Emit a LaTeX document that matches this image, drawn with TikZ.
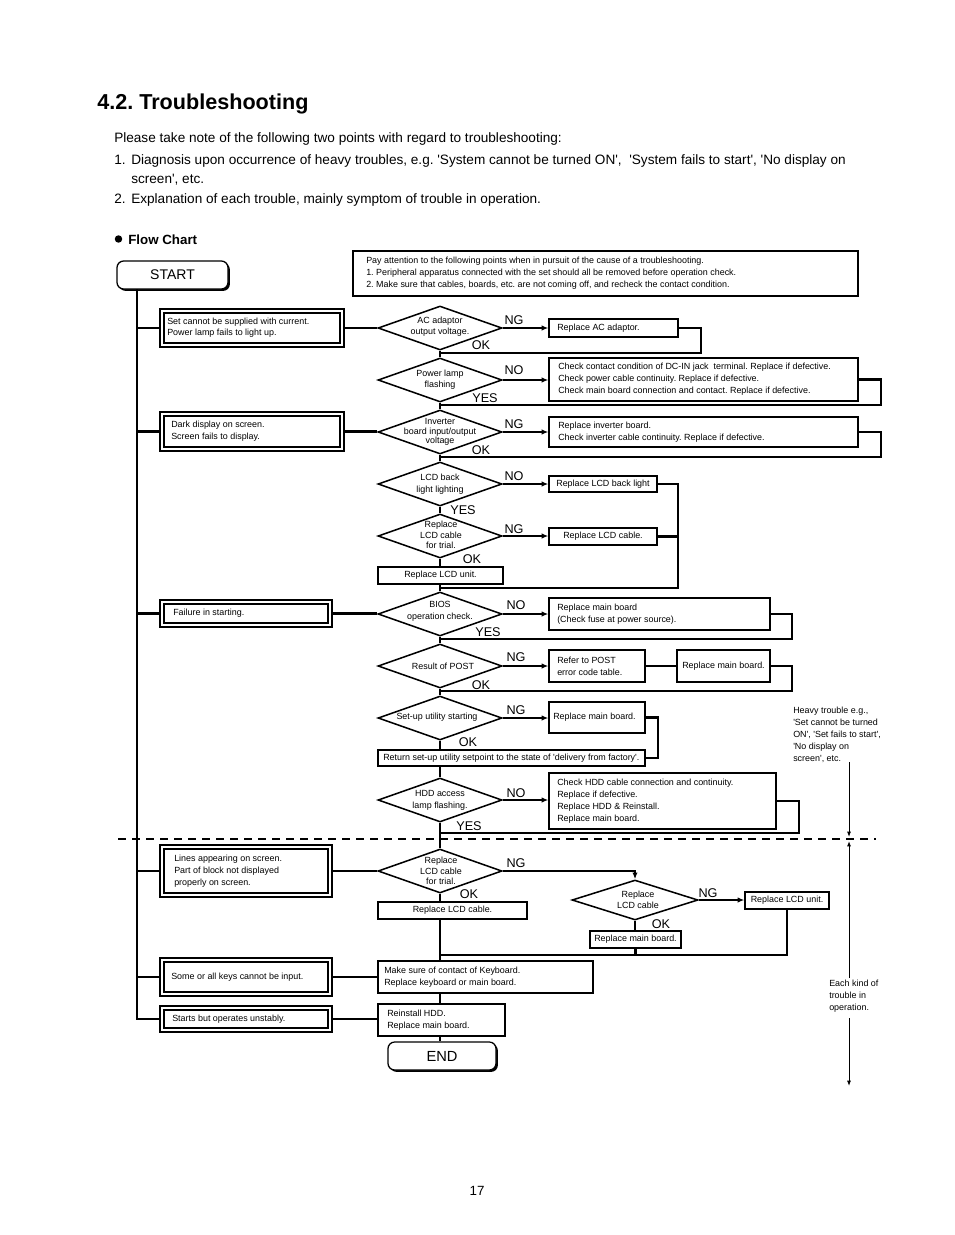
\documentclass[tikz,border=0pt]{standalone}
\usepackage{fontspec}
\setmainfont{Liberation Sans}
\usetikzlibrary{arrows.meta,shapes.geometric,shadows}
\newcommand\sq{\textquotesingle}
\tikzset{
  conn/.style={line width=1.7pt},
  arr/.style={conn,-{Latex[length=5pt,width=4pt]}},
  boxst/.style={draw,line width=0.95pt,inner sep=0pt},
  symst/.style={draw,line width=0.85pt,double,double distance=2.2pt,inner sep=0pt,outer sep=1.95pt},
  dia/.style={draw,diamond,line width=1.15pt,inner sep=0pt,minimum width=93pt,minimum height=33pt},
  txt/.style={inner sep=0pt,align=left,font=\fontsize{6.7}{9}\selectfont},
  dtxt/.style={inner sep=0pt,align=center,font=\fontsize{6.7}{8.3}\selectfont},
  lab/.style={inner sep=0pt,font=\fontsize{9.5}{10}\selectfont},
  hd/.style={anchor=base west,inner sep=0pt,font=\fontsize{10.2}{12}\selectfont},
  term/.style={draw,line width=0.95pt,rounded corners=5pt,fill=white,inner sep=0pt,
    drop shadow={shadow xshift=1.4pt,shadow yshift=-1.4pt,fill=black,opacity=1}},
  thinl/.style={line width=0.75pt},
  tarr/.style={thinl,-{Latex[length=4pt,width=3pt]}},
}
\newcommand\lbox[8][]{%
  \pgfmathsetmacro\myW{(#5-#3)*0.75}%
  \pgfmathsetmacro\myH{(#6-#4)*0.75}%
  \node[boxst,minimum width=\myW pt,minimum height=\myH pt,#1] (#2) at ({(#3+#5)/2},{(#4+#6)/2}) {};%
  \node[txt,anchor=west] (#2t) at ({#3+#7},{(#4+#6)/2}) {#8};}
\newcommand\cbox[7][]{%
  \pgfmathsetmacro\myW{(#5-#3)*0.75}%
  \pgfmathsetmacro\myH{(#6-#4)*0.75}%
  \node[boxst,minimum width=\myW pt,minimum height=\myH pt,#1] (#2) at ({(#3+#5)/2},{(#4+#6)/2}) {};%
  \node[txt,align=center] (#2t) at (#2.center) {#7};}
\begin{document}
\frenchspacing
\begin{tikzpicture}[x=0.75pt,y=-0.75pt]
\useasboundingbox (0,0) rectangle (954,1235);
\fill[white] (0,0) rectangle (954,1235);

% header
\node[anchor=base west,inner sep=0pt,font=\bfseries\fontsize{16.2}{18}\selectfont] (title) at (97,109) {4.2. Troubleshooting};
\node[hd] (p0) at (114,142) {Please take note of the following two points with regard to troubleshooting:};
\node[hd] (n1) at (114,164) {1.};
\node[hd] (p1) at (131,164) {Diagnosis upon occurrence of heavy troubles, e.g. \sq System cannot be turned ON\sq,~ \sq System fails to start\sq, \sq No display on};
\node[hd] (p1b) at (131,183) {screen\sq, etc.};
\node[hd] (n2) at (114,203) {2.};
\node[hd] (p2) at (131,203) {Explanation of each trouble, mainly symptom of trouble in operation.};
\fill (118.5,239) circle[radius=2.8pt];
\node[anchor=base west,inner sep=0pt,font=\bfseries\fontsize{10}{12}\selectfont] (fc) at (128,244) {Flow Chart};

% start / note
\node[term,minimum width=83.25pt,minimum height=21pt,font=\fontsize{10.5}{12}\selectfont] (start) at (172.5,275) {START};
\node[boxst,minimum width=378.75pt,minimum height=33.75pt] (note) at (605.5,273.5) {};
\node[txt,anchor=west] (notet) at (366,273.5) {Pay attention to the following points when in pursuit of the cause of a troubleshooting.\\1. Peripheral apparatus connected with the set should all be removed before operation check.\\2. Make sure that cables, boards, etc. are not coming off, and recheck the contact condition.};

% symptom boxes
\lbox[symst]{s1}{162}{311}{342}{345}{5}{Set cannot be supplied with current.\\[-0.5pt]Power lamp fails to light up.}
\lbox[symst]{s2}{162}{414}{342}{449}{9}{Dark display on screen.\\Screen fails to display.}
\lbox[symst]{s3}{162}{602}{330}{625}{11}{Failure in starting.}
\lbox[symst]{s4}{162}{847}{330}{895}{12}{Lines appearing on screen.\\Part of block not displayed\\properly on screen.}
\lbox[symst]{s5}{162}{960}{330}{994}{9}{Some or all keys cannot be input.}
\lbox[symst]{s6}{162}{1008}{330}{1030}{10}{Starts but operates unstably.}

% diamonds
\node[dia] (d1) at (440,328) {};
\node[dtxt] (d1t) at (440,327) {AC adaptor\\output voltage.};
\node[dia] (d2) at (440,380) {};
\node[dtxt] (d2t) at (440,380) {Power lamp\\flashing};
\node[dia] (d3) at (440,432) {};
\node[dtxt,font=\fontsize{6.7}{6.9}\selectfont] (d3t) at (440,432) {Inverter\\board input/output\\voltage};
\node[dia] (d4) at (440,484) {};
\node[dtxt,font=\fontsize{6.7}{9}\selectfont] (d4t) at (440,484) {LCD back\\light lighting};
\node[dia] (d5) at (440,536) {};
\node[dtxt,font=\fontsize{6.7}{7.9}\selectfont] (d5t) at (441,535) {Replace\\LCD cable\\for trial.};
\node[dia] (d6) at (440,614) {};
\node[dtxt,font=\fontsize{6.7}{9}\selectfont] (d6t) at (440,611) {BIOS\\operation check.};
\node[dia] (d7) at (440,666) {};
\node[dtxt] (d7t) at (443,666) {Result of POST};
\node[dia] (d8) at (440,718) {};
\node[dtxt] (d8t) at (437,717) {Set-up utility starting};
\node[dia] (d9) at (440,800) {};
\node[dtxt,font=\fontsize{6.7}{9}\selectfont] (d9t) at (440,800) {HDD access\\lamp flashing.};
\node[dia] (d10) at (440,871) {};
\node[dtxt,font=\fontsize{6.7}{7.9}\selectfont] (d10t) at (441,871) {Replace\\LCD cable\\for trial.};
\node[dia,minimum width=94.5pt,minimum height=30pt] (d11) at (635,900) {};
\node[dtxt] (d11t) at (638,900) {Replace\\LCD cable};

% action boxes
\lbox{r1}{549}{319}{678}{337}{8}{Replace AC adaptor.}
\lbox{r2}{549}{358}{858}{401}{9}{Check contact condition of DC-IN jack~ terminal. Replace if defective.\\Check power cable continuity. Replace if defective.\\Check main board connection and contact. Replace if defective.}
\lbox{r3}{549}{417}{858}{447}{9}{Replace inverter board.\\Check inverter cable continuity. Replace if defective.}
\cbox{r4}{549}{476}{657}{492}{Replace LCD back light}
\cbox{r5}{549}{528}{657}{545}{Replace LCD cable.}
\cbox{u1}{378}{567}{503}{584}{Replace LCD unit.}
\lbox{r6}{549}{598}{770}{630}{8}{Replace main board\\(Check fuse at power source).}
\lbox{r7}{549}{650}{645}{682}{8}{Refer to POST\\error code table.}
\cbox{r7b}{677}{650}{770}{682}{Replace main board.}
\lbox{r8}{549}{702}{645}{733}{4}{Replace main board.}
\lbox{ret}{378}{750}{645}{766}{5}{Return set-up utility setpoint to the state of \sq delivery from factory\sq.}
\lbox{r9}{549}{773}{776}{829}{8}{Check HDD cable connection and continuity.\\Replace if defective.\\Replace HDD \& Reinstall.\\Replace main board.}
\cbox{c1}{378}{902}{527}{919}{Replace LCD cable.}
\cbox{r11}{745}{892}{829}{909}{Replace LCD unit.}
\cbox{r12}{590}{931}{681}{948}{Replace main board.}
\lbox{k1}{378}{961}{593}{993}{6}{Make sure of contact of Keyboard.\\Replace keyboard or main board.}
\lbox{h1}{378}{1004}{505}{1036}{9}{Reinstall HDD.\\Replace main board.}
\node[term,minimum width=81pt,minimum height=21pt,font=\fontsize{11}{12}\selectfont] (finish) at (442,1056) {END};

% coordinates
\coordinate (tt) at (137,289);
\coordinate (mx) at (440,0);
\coordinate (m1) at (440,353);
\coordinate (m2) at (440,405);
\coordinate (m3) at (440,457);
\coordinate (m4) at (440,588);
\coordinate (m6) at (440,639);
\coordinate (m7) at (440,691);
\coordinate (m9) at (440,833);
\coordinate (m10) at (440,955);
\coordinate (j4) at (678,0);

% trunk and branches
\draw[conn] (tt) |- (s6.west);
\foreach \s in {s1,s2,s3,s4,s5} \draw[conn] (\s.west -| tt) -- (\s.west);
\draw[conn] (s1.east) -- (s1.east -| d1.west);
\draw[conn] (s2.east) -- (s2.east -| d3.west);
\draw[conn] (s3.east) -- (s3.east -| d6.west);
\draw[conn] (s4.east) -- (s4.east -| d10.west);
\draw[conn] (s5.east) -- (s5.east -| k1.west);
\draw[conn] (s6.east) -- (s6.east -| h1.west);

% main line
\draw[conn] (d1.south) -- (d2.north);
\draw[conn] (d2.south) -- (d3.north);
\draw[conn] (d3.south) -- (d4.north);
\draw[conn] (d4.south) -- (d5.north);
\draw[conn] (d5.south) -- (u1.north -| d5.south);
\draw[conn] (u1.south -| d6.north) -- (d6.north);
\draw[conn] (d6.south) -- (d7.north);
\draw[conn] (d7.south) -- (d8.north);
\draw[conn] (d8.south) -- (ret.north -| d8.south);
\draw[conn] (ret.south -| d9.north) -- (d9.north);
\draw[conn] (d9.south) -- (d10.north);
\draw[conn] (d10.south) -- (c1.north -| d10.south);
\draw[conn] (c1.south -| mx) -- (k1.north -| mx);
\draw[conn] (k1.south -| mx) -- (h1.north -| mx);
\draw[conn] (h1.south -| mx) -- (finish.north -| mx);

% branches right
\draw[arr] (d1.east) -- (d1.east -| r1.west);
\draw[arr] (d2.east) -- (d2.east -| r2.west);
\draw[arr] (d3.east) -- (d3.east -| r3.west);
\draw[arr] (d4.east) -- (d4.east -| r4.west);
\draw[arr] (d5.east) -- (d5.east -| r5.west);
\draw[arr] (d6.east) -- (d6.east -| r6.west);
\draw[arr] (d7.east) -- (d7.east -| r7.west);
\draw[arr] (d8.east) -- (d8.east -| r8.west);
\draw[arr] (d9.east) -- (d9.east -| r9.west);
\draw[arr] (d10.east) -| (d11.north);
\draw[arr] (d11.east) -- (d11.east -| r11.west);

% returns
\draw[conn] (r1.east) -- ++(22,0) |- (m1);
\draw[conn] (r2.east) -- ++(22,0) |- (m2);
\draw[conn] (r3.east) -- ++(22,0) |- (m3);
\draw[conn] (r4.east) -- (r4.east -| j4) |- (m4);
\draw[conn] (r5.east) -- (r5.east -| j4);
\draw[conn] (r6.east) -- ++(21,0) |- (m6);
\draw[conn] (r7.east) -- (r7b.west);
\draw[conn] (r7b.east) -- ++(21,0) |- (m7);
\draw[conn] (r8.east) -- ++(12,0) |- (ret.east);
\draw[conn] (r9.east) -- ++(22,0) |- (m9);
\draw[conn] (d11.south) -- (r12.north -| d11.south);
\draw[conn] (r12.south) -- (r12.south |- m10);
\draw[conn] (r11.south) |- (m10);

% labels
\node[lab] at (514,320) {NG};  \node[lab] at (481,345) {OK};
\node[lab] at (514,370) {NO};  \node[lab] at (485,398) {YES};
\node[lab] at (514,424) {NG};  \node[lab] at (481,450) {OK};
\node[lab] at (514,476) {NO};  \node[lab] at (463,510) {YES};
\node[lab] at (514,529) {NG};  \node[lab] at (472,559) {OK};
\node[lab] at (516,605) {NO};  \node[lab] at (488,632) {YES};
\node[lab] at (516,657) {NG};  \node[lab] at (481,685) {OK};
\node[lab] at (516,710) {NG};  \node[lab] at (468,742) {OK};
\node[lab] at (516,793) {NO};  \node[lab] at (469,826) {YES};
\node[lab] at (516,863) {NG};  \node[lab] at (469,894) {OK};
\node[lab] at (708,893) {NG};  \node[lab] at (661,924) {OK};

% dashed separator
\coordinate (dl) at (118,839);
\coordinate (dr) at (876,839);
\draw[line width=1.5pt,dash pattern=on 6pt off 4.5pt] (dl) -- (dr);

% right annotation
\node[txt,anchor=west] (heavy) at (793,735) {Heavy trouble e.g.,\\\sq Set cannot be turned\\ON\sq, \sq Set fails to start\sq,\\\sq No display on\\screen\sq, etc.};
\coordinate (a1) at (849,762);
\coordinate (a2) at (849,837);
\coordinate (a3) at (849,978);
\coordinate (a4) at (849,841);
\coordinate (a5) at (849,1018);
\coordinate (a6) at (849,1086);
\draw[tarr] (a1) -- (a2);
\draw[tarr] (a3) -- (a4);
\draw[tarr] (a5) -- (a6);
\node[txt,anchor=west] (each) at (829,996) {Each kind of\\trouble in\\operation.};

\node[inner sep=0pt,font=\fontsize{10}{12}\selectfont] (pg) at (477,1191) {17};
\end{tikzpicture}
\end{document}
